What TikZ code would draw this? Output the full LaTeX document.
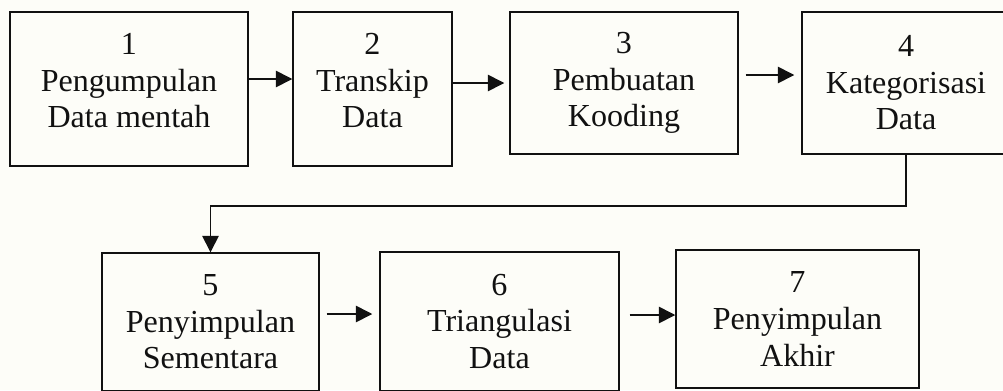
\documentclass[tikz,border=0pt]{standalone}
\usepackage{fontspec}
\setmainfont{Liberation Serif}
\usetikzlibrary{arrows.meta,calc}
\definecolor{paper}{HTML}{FDFDF8}
\definecolor{ink}{HTML}{111111}

\begin{document}
\begin{tikzpicture}[x=0.025cm, y=-0.025cm, font=\fontsize{22.8}{26}\selectfont, text=ink,
  >={Triangle[length=4.1mm,width=4.1mm]},
  box/.style={draw=ink, line width=1pt, align=center, inner sep=0pt},
  tall/.style={box, minimum height=3.85cm, text depth=0.425cm},
  low/.style={box, minimum height=3.5cm},
  flow/.style={->, line width=1.1pt, draw=ink}]

% ---------------- page
\useasboundingbox (0,0) rectangle (1003,390);
\fill[paper] (0,0) rectangle (1003,390);
\clip (0,0) rectangle (1003,390);

% ---------------- first row
\node[tall, minimum width=5.95cm] (b1) at (129,89) {1\\Pengumpulan\\Data mentah};
\node[tall, minimum width=3.975cm] (b2) at (372.5,89) {2\\Transkip\\Data};
\node[low, minimum width=5.7cm, minimum height=3.55cm] (b3) at (624,83) {3\\Pembuatan\\Kooding};
\node[low, minimum width=5.2cm, minimum height=3.55cm] (b4) at (906,83) {4\\Kategorisasi\\Data};

% ---------------- second row
\node[low, minimum width=5.425cm, minimum height=3.45cm] (b5) at (210.5,322) {5\\Penyimpulan\\Sementara};
\node[low, minimum width=5.975cm, minimum height=3.475cm] (b6) at (499.5,321.5) {6\\Triangulasi\\Data};
\node[low, minimum width=6.075cm, minimum height=3.45cm] (b7) at (797.5,319) {7\\Penyimpulan\\Akhir};

% ---------------- arrows
\draw[flow] ($(b1.east)+(0,-10)$) -- ($(b2.west)+(0,-10)$);
\draw[flow, shorten >=0.125cm] (b2.east |- b3.west) -- (b3.west);
\draw[flow, shorten <=0.175cm, shorten >=0.175cm] ($(b3.east)+(0,-8)$) -- ($(b4.west)+(0,-8)$);
\draw[flow] (b4.south) -- ++(0,51) -| (b5.north);
\draw[flow, shorten <=0.175cm, shorten >=0.175cm] ($(b5.east)+(0,-8)$) -- ($(b6.west)+(0,-7.5)$);
\draw[flow, shorten <=0.25cm] ($(b6.east)+(0,-6.5)$) -- ($(b7.west)+(0,-4)$);
\end{tikzpicture}
\end{document}
